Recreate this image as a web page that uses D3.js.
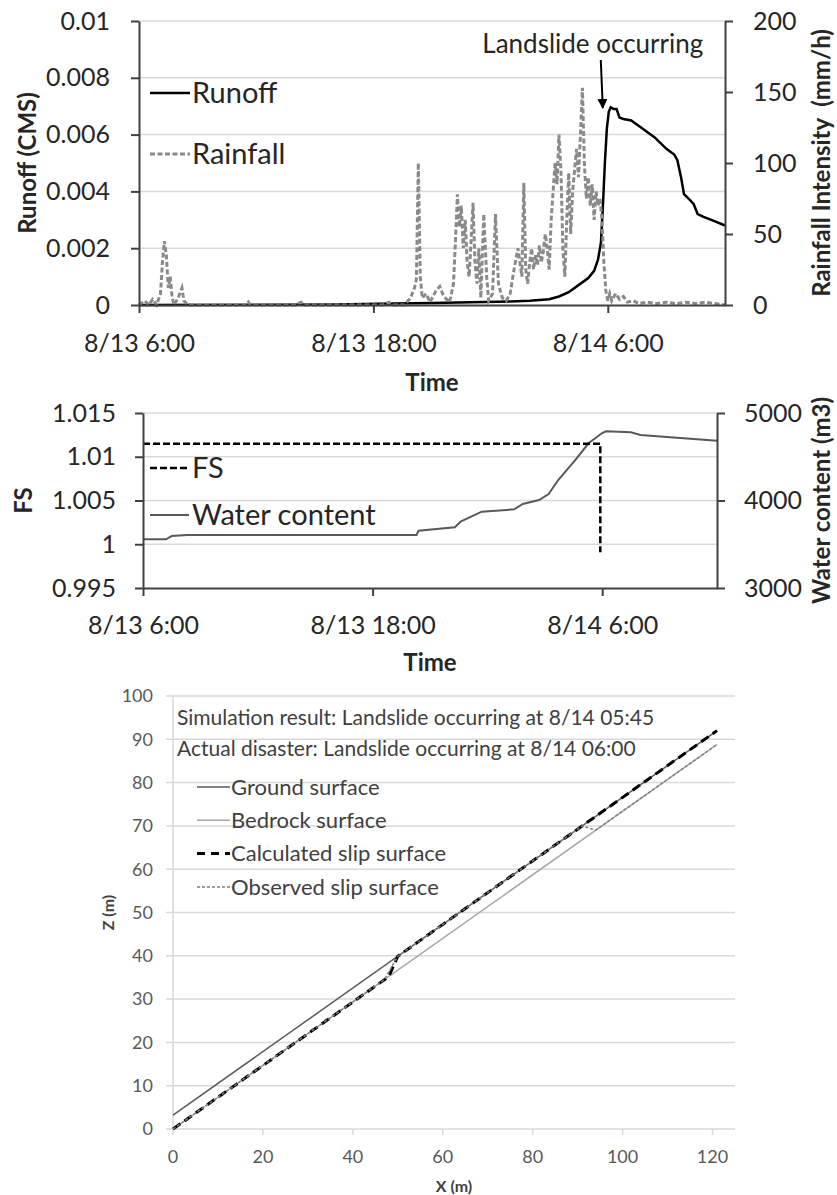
<!DOCTYPE html>
<html><head><meta charset="utf-8">
<script src="https://cdn.jsdelivr.net/npm/d3@7"></script>
<style>
body{margin:0;background:#fff}
text{font-family:Lato,"Open Sans",sans-serif}
</style>
</head><body>
<svg id="c" width="837" height="1195"></svg>
<script>
// ---------- DATA ----------
// Time in hours after 8/13 6:00
const timeTicks = [0, 12, 24];
const timeTickLabels = ["8/13 6:00", "8/13 18:00", "8/14 6:00"];

// Chart 1: runoff (CMS) and rainfall intensity (mm/h)
const runoffTicks = [0, 0.002, 0.004, 0.006, 0.008, 0.01];
const runoffTickLabels = ["0", "0.002", "0.004", "0.006", "0.008", "0.01"];
const rainTicks = [0, 50, 100, 150, 200];
const runoffHours = [0, 10, 13, 15, 17, 19, 20, 21, 21.5, 22, 22.5, 23, 23.3, 23.5, 23.65, 23.75, 23.85, 23.95, 24.05, 24.15, 24.3, 24.45, 24.6, 24.8, 25.2, 25.7, 26.4, 27.0, 27.4, 27.56, 27.75, 27.9, 28.2, 28.4, 28.6, 28.9, 29.3, 30];
const runoffValues = [0, 0.00002, 0.00005, 0.00007, 0.0001, 0.00012, 0.00015, 0.0002, 0.0003, 0.00045, 0.0007, 0.00095, 0.0012, 0.0016, 0.0022, 0.0035, 0.005, 0.0062, 0.0068, 0.00696, 0.0069, 0.0069, 0.0066, 0.00655, 0.0065, 0.00625, 0.0059, 0.0055, 0.0053, 0.0051, 0.0045, 0.0039, 0.0037, 0.00355, 0.0032, 0.0031, 0.003, 0.0028];
const rainHours = [0, 0.3, 0.5, 0.7, 0.9, 1.1, 1.2, 1.3, 1.4, 1.5, 1.6, 1.7, 1.8, 2.0, 2.2, 2.3, 2.5, 5.5, 5.6, 5.7, 8.0, 8.3, 8.5, 12.5, 12.8, 13.0, 13.6, 13.9, 14.1, 14.2, 14.3, 14.4, 14.5, 14.7, 14.9, 15.2, 15.4, 15.6, 15.9, 16.1, 16.2, 16.3, 16.4, 16.5, 16.6, 16.7, 16.8, 16.9, 17.0, 17.1, 17.2, 17.3, 17.4, 17.5, 17.65, 17.8, 17.9, 18.1, 18.25, 18.4, 18.6, 18.8, 19.0, 19.2, 19.4, 19.5, 19.6, 19.7, 19.8, 19.9, 20.0, 20.1, 20.2, 20.3, 20.4, 20.5, 20.6, 20.7, 20.8, 20.9, 21.0, 21.1, 21.2, 21.3, 21.4, 21.5, 21.6, 21.7, 21.8, 21.9, 22.0, 22.1, 22.2, 22.3, 22.4, 22.5, 22.6, 22.7, 22.8, 22.9, 23.0, 23.1, 23.2, 23.3, 23.4, 23.5, 23.6, 23.7, 23.8, 23.9, 24.0, 24.1, 24.2, 24.4, 24.6, 24.8, 25.0, 25.3, 25.6, 26, 26.5, 27, 27.5, 28, 28.5, 29, 29.5, 30];
const rainValues = [0, 3, 0, 4, 0, 8, 30, 45, 35, 12, 20, 5, 0, 5, 12, 3, 0, 0, 2, 0, 0, 2, 0, 0, 2, 0, 0, 5, 12, 18, 100, 20, 5, 8, 2, 10, 13, 6, 2, 15, 45, 78, 55, 70, 40, 60, 30, 20, 45, 72, 30, 15, 40, 5, 64, 20, 3, 8, 64, 15, 5, 3, 8, 25, 40, 30, 20, 86, 25, 15, 30, 40, 25, 35, 28, 42, 30, 38, 50, 40, 25, 60, 80, 100, 85, 120, 95, 40, 20, 60, 93, 50, 80, 95, 110, 90, 120, 153, 100, 75, 90, 70, 85, 60, 80, 70, 75, 60, 30, 10, 3, 8, 3, 8, 4, 6, 2, 3, 1, 2, 1, 2, 1, 2, 1, 2, 1, 0];
const annotationText = "Landslide occurring";
const annotationHour = 24.0;

// Chart 2: factor of safety and water content (m3)
const fsTicks = [0.995, 1, 1.005, 1.01, 1.015];
const fsTickLabels = ["0.995", "1", "1.005", "1.01", "1.015"];
const wcTicks = [3000, 4000, 5000];
const fsHours = [0, 23.9, 23.9];
const fsValues = [1.0115, 1.0115, 0.9991];
const wcHours = [0, 1.2, 1.5, 2.3, 14.3, 14.4, 16.3, 16.6, 17.7, 19.4, 19.85, 20.7, 21.2, 21.7, 22.6, 23.3, 24.0, 24.2, 25.5, 26, 30];
const wcValues = [3557, 3557, 3594, 3606, 3606, 3655, 3694, 3758, 3872, 3899, 3960, 4006, 4074, 4234, 4463, 4657, 4771, 4790, 4780, 4749, 4683];

// Chart 3: slope profile (m)
const xTicks3 = [0, 20, 40, 60, 80, 100, 120];
const zTicks3 = [0, 10, 20, 30, 40, 50, 60, 70, 80, 90, 100];
const groundX = [0, 121];
const groundZ = [3.2, 92];
const bedrockX = [0, 121];
const bedrockZ = [0, 88.8];
const calcSlipX = [0, 48, 50, 121];
const calcSlipZ = [0, 35.2, 39.9, 92];
const obsSlipX = [0, 47, 50, 91, 94, 121];
const obsSlipZ = [0, 34.5, 39.9, 70, 69, 88.8];
const noteLines = ["Simulation result: Landslide occurring at 8/14 05:45", "Actual disaster: Landslide occurring at 8/14 06:00"];
const legend3 = ["Ground surface", "Bedrock surface", "Calculated slip surface", "Observed slip surface"];

// ---------- DRAW ----------
const svg = d3.select("#c");
const AX = "#404040", GRID = "#d9d9d9", TXT = "#262626";

function styleAxis(g, fs, color, width) {
  g.select(".domain").attr("stroke", color).attr("stroke-width", width);
  g.selectAll(".tick line").attr("stroke", color).attr("stroke-width", width);
  g.selectAll(".tick text").attr("fill", TXT).style("font-size", fs + "px").style("font-family", "Lato");
}
function zip(a, b) { return a.map((v, i) => [v, b[i]]); }

// ===== Chart 1 =====
const x1 = d3.scaleLinear().domain([0, 30]).range([139, 725]);
const y1 = d3.scaleLinear().domain([0, 0.01]).range([305, 21]);
const y1r = d3.scaleLinear().domain([0, 200]).range([305, 21]);
const c1 = svg.append("g");
c1.selectAll(".g1").data(runoffTicks.slice(1)).join("line")
  .attr("x1", x1(0)).attr("x2", x1(30)).attr("y1", d => y1(d)).attr("y2", d => y1(d))
  .attr("stroke", GRID).attr("stroke-width", 1.5);

const line1 = d3.line().x(d => x1(d[0])).y(d => y1(d[1]));
const line1r = d3.line().x(d => x1(d[0])).y(d => y1r(d[1]));
c1.append("path").datum(zip(runoffHours, runoffValues)).attr("d", line1)
  .attr("fill", "none").attr("stroke", "#000").attr("stroke-width", 2.5);
c1.append("path").datum(zip(rainHours, rainValues)).attr("d", line1r)
  .attr("fill", "none").attr("stroke", "#8a8a8a").attr("stroke-width", 3).attr("stroke-dasharray", "5,2.5");

const ax1l = c1.append("g").attr("transform", `translate(${x1(0)},0)`)
  .call(d3.axisLeft(y1).tickValues(runoffTicks).tickFormat((d, i) => runoffTickLabels[i]).tickSize(8).tickSizeOuter(0).tickPadding(21));
styleAxis(ax1l, 25, AX, 2);
const ax1r = c1.append("g").attr("transform", `translate(${x1(30)},0)`)
  .call(d3.axisRight(y1r).tickValues(rainTicks).tickFormat(d3.format("d")).tickSize(8).tickSizeOuter(0).tickPadding(20));
styleAxis(ax1r, 25, AX, 2);
const ax1b = c1.append("g").attr("transform", `translate(0,${y1(0)})`)
  .call(d3.axisBottom(x1).tickValues(timeTicks).tickFormat((d, i) => timeTickLabels[i]).tickSize(8).tickSizeOuter(0).tickPadding(21));
styleAxis(ax1b, 25, AX, 2);

c1.append("text").attr("transform", `translate(28,${(y1(0) + y1(0.01)) / 2}) rotate(-90)`)
  .attr("text-anchor", "middle").attr("dy", "0.35em").style("font-weight", "bold").style("font-size", "24px").attr("fill", TXT)
  .text("Runoff (CMS)");
c1.append("text").attr("transform", `translate(822,${(y1(0) + y1(0.01)) / 2}) rotate(-90)`)
  .attr("text-anchor", "middle").attr("dy", "0.35em").style("font-weight", "bold").style("font-size", "24px").attr("fill", TXT)
  .attr("xml:space", "preserve").text("Rainfall Intensity  (mm/h)");
c1.append("text").attr("x", (x1(0) + x1(30)) / 2).attr("y", 383).attr("dy", "0.35em")
  .attr("text-anchor", "middle").style("font-weight", "bold").style("font-size", "24px").attr("fill", TXT).text("Time");

// legend 1
const leg1 = [{ label: "Runoff", y: 93, dash: null, color: "#000", w: 2.5 }, { label: "Rainfall", y: 154, dash: "5,2.5", color: "#8a8a8a", w: 3 }];
leg1.forEach(l => {
  c1.append("line").attr("x1", 150).attr("x2", 190).attr("y1", l.y).attr("y2", l.y)
    .attr("stroke", l.color).attr("stroke-width", l.w).attr("stroke-dasharray", l.dash);
  c1.append("text").attr("x", 192).attr("y", l.y).attr("dy", "0.35em").style("font-size", "29px").attr("fill", TXT).text(l.label);
});

// annotation
const ax = x1(annotationHour);
c1.append("text").attr("x", ax - 15).attr("y", 44).attr("dy", "0.35em").attr("text-anchor", "middle")
  .style("font-size", "26px").attr("fill", TXT).text(annotationText);
const defs = svg.append("defs");
defs.append("marker").attr("id", "ah").attr("viewBox", "0 0 10 10").attr("refX", 9).attr("refY", 5)
  .attr("markerWidth", 5).attr("markerHeight", 5).attr("orient", "auto")
  .append("path").attr("d", "M0,0L10,5L0,10Z").attr("fill", "#000");
c1.append("line").attr("x1", ax - 7).attr("y1", 60).attr("x2", ax - 5).attr("y2", 108)
  .attr("stroke", "#000").attr("stroke-width", 2).attr("marker-end", "url(#ah)");

// ===== Chart 2 =====
const x2 = d3.scaleLinear().domain([0, 30]).range([143, 717]);
const y2 = d3.scaleLinear().domain([0.995, 1.015]).range([588, 413]);
const y2r = d3.scaleLinear().domain([3000, 5000]).range([588, 413]);
const c2 = svg.append("g");
c2.selectAll(".g2").data(fsTicks.slice(1)).join("line")
  .attr("x1", x2(0)).attr("x2", x2(30)).attr("y1", d => y2(d)).attr("y2", d => y2(d))
  .attr("stroke", GRID).attr("stroke-width", 1.5);
c2.append("path").datum(zip(wcHours, wcValues)).attr("d", d3.line().x(d => x2(d[0])).y(d => y2r(d[1])))
  .attr("fill", "none").attr("stroke", "#595959").attr("stroke-width", 2);
c2.append("path").datum(zip(fsHours, fsValues)).attr("d", d3.line().x(d => x2(d[0])).y(d => y2(d[1])))
  .attr("fill", "none").attr("stroke", "#000").attr("stroke-width", 2.5).attr("stroke-dasharray", "7,3");

const ax2l = c2.append("g").attr("transform", `translate(${x2(0)},0)`)
  .call(d3.axisLeft(y2).tickValues(fsTicks).tickFormat((d, i) => fsTickLabels[i]).tickSize(8).tickSizeOuter(0).tickPadding(19));
styleAxis(ax2l, 25, AX, 2);
const ax2r = c2.append("g").attr("transform", `translate(${x2(30)},0)`)
  .call(d3.axisRight(y2r).tickValues(wcTicks).tickFormat(d3.format("d")).tickSize(8).tickSizeOuter(0).tickPadding(19));
styleAxis(ax2r, 25, AX, 2);
const ax2b = c2.append("g").attr("transform", `translate(0,${y2(0.995)})`)
  .call(d3.axisBottom(x2).tickValues(timeTicks).tickFormat((d, i) => timeTickLabels[i]).tickSize(8).tickSizeOuter(0).tickPadding(20));
styleAxis(ax2b, 25, AX, 2);

c2.append("text").attr("transform", `translate(24,${(y2(0.995) + y2(1.015)) / 2}) rotate(-90)`)
  .attr("text-anchor", "middle").attr("dy", "0.35em").style("font-weight", "bold").style("font-size", "24px").attr("fill", TXT).text("FS");
c2.append("text").attr("transform", `translate(822,${(y2(0.995) + y2(1.015)) / 2}) rotate(-90)`)
  .attr("text-anchor", "middle").attr("dy", "0.35em").style("font-weight", "bold").style("font-size", "24px").attr("fill", TXT).text("Water content (m3)");
c2.append("text").attr("x", (x2(0) + x2(30)) / 2).attr("y", 663).attr("dy", "0.35em")
  .attr("text-anchor", "middle").style("font-weight", "bold").style("font-size", "24px").attr("fill", TXT).text("Time");

const leg2 = [{ label: "FS", y: 468, dash: "7,3", color: "#000", w: 2.5 }, { label: "Water content", y: 515, dash: null, color: "#595959", w: 2 }];
leg2.forEach(l => {
  c2.append("line").attr("x1", 150).attr("x2", 189).attr("y1", l.y).attr("y2", l.y)
    .attr("stroke", l.color).attr("stroke-width", l.w).attr("stroke-dasharray", l.dash);
  c2.append("text").attr("x", 192).attr("y", l.y).attr("dy", "0.35em").style("font-size", "29px").attr("fill", TXT).text(l.label);
});

// ===== Chart 3 =====
const x3 = d3.scaleLinear().domain([0, 125]).range([173, 735]);
const y3 = d3.scaleLinear().domain([0, 100]).range([1129, 696]);
const c3 = svg.append("g");
c3.selectAll(".g3").data(zTicks3).join("line")
  .attr("x1", x3(0) - 7).attr("x2", x3(125)).attr("y1", d => y3(d)).attr("y2", d => y3(d))
  .attr("stroke", GRID).attr("stroke-width", 1.5);
c3.append("line").attr("x1", x3(0)).attr("x2", x3(0)).attr("y1", y3(0)).attr("y2", y3(100)).attr("stroke", GRID).attr("stroke-width", 1.5);
c3.selectAll(".t3").data(xTicks3).join("line")
  .attr("x1", d => x3(d)).attr("x2", d => x3(d)).attr("y1", y3(0)).attr("y2", y3(0) + 6).attr("stroke", GRID).attr("stroke-width", 1.5);
c3.selectAll(".yl3").data(zTicks3).join("text").attr("x", 153).attr("y", d => y3(d)).attr("dy", "0.35em")
  .attr("text-anchor", "end").style("font-size", "18px").attr("fill", "#595959").text(d => d);
c3.selectAll(".xl3").data(xTicks3).join("text").attr("x", d => x3(d)).attr("y", 1157).attr("dy", "0.35em")
  .attr("text-anchor", "middle").style("font-size", "18px").attr("fill", "#595959").text(d => d);
c3.append("text").attr("transform", `translate(108,${(y3(0) + y3(100)) / 2}) rotate(-90)`)
  .attr("text-anchor", "middle").attr("dy", "0.35em").style("font-weight", "bold").style("font-size", "16px").attr("fill", "#404040").text("Z (m)");
c3.append("text").attr("x", (x3(0) + x3(125)) / 2).attr("y", 1186).attr("dy", "0.35em")
  .attr("text-anchor", "middle").style("font-weight", "bold").style("font-size", "16px").attr("fill", "#404040").text("X (m)");

const l3 = d3.line().x(d => x3(d[0])).y(d => y3(d[1]));
const series3 = [
  { x: groundX, z: groundZ, color: "#595959", w: 1.5, dash: null },
  { x: bedrockX, z: bedrockZ, color: "#a6a6a6", w: 1.5, dash: null },
  { x: calcSlipX, z: calcSlipZ, color: "#000", w: 3, dash: "9,5" },
  { x: obsSlipX, z: obsSlipZ, color: "#7f7f7f", w: 1.5, dash: "3,2" }
];
series3.forEach(s => {
  c3.append("path").datum(zip(s.x, s.z)).attr("d", l3).attr("fill", "none")
    .attr("stroke", s.color).attr("stroke-width", s.w).attr("stroke-dasharray", s.dash);
});
c3.selectAll(".note").data(noteLines).join("text").attr("x", 177).attr("y", (d, i) => 718 + i * 31).attr("dy", "0.35em")
  .style("font-size", "21px").attr("fill", "#404040").text(d => d);
legend3.forEach((lab, i) => {
  const yy = 787 + i * 33.3, s = series3[i];
  c3.append("line").attr("x1", 197).attr("x2", 230).attr("y1", yy).attr("y2", yy)
    .attr("stroke", s.color).attr("stroke-width", s.w).attr("stroke-dasharray", i === 2 ? "8,6" : s.dash);
  c3.append("text").attr("x", 231).attr("y", yy).attr("dy", "0.35em").style("font-size", "22px").attr("fill", "#404040").text(lab);
});
</script>
</body></html>
